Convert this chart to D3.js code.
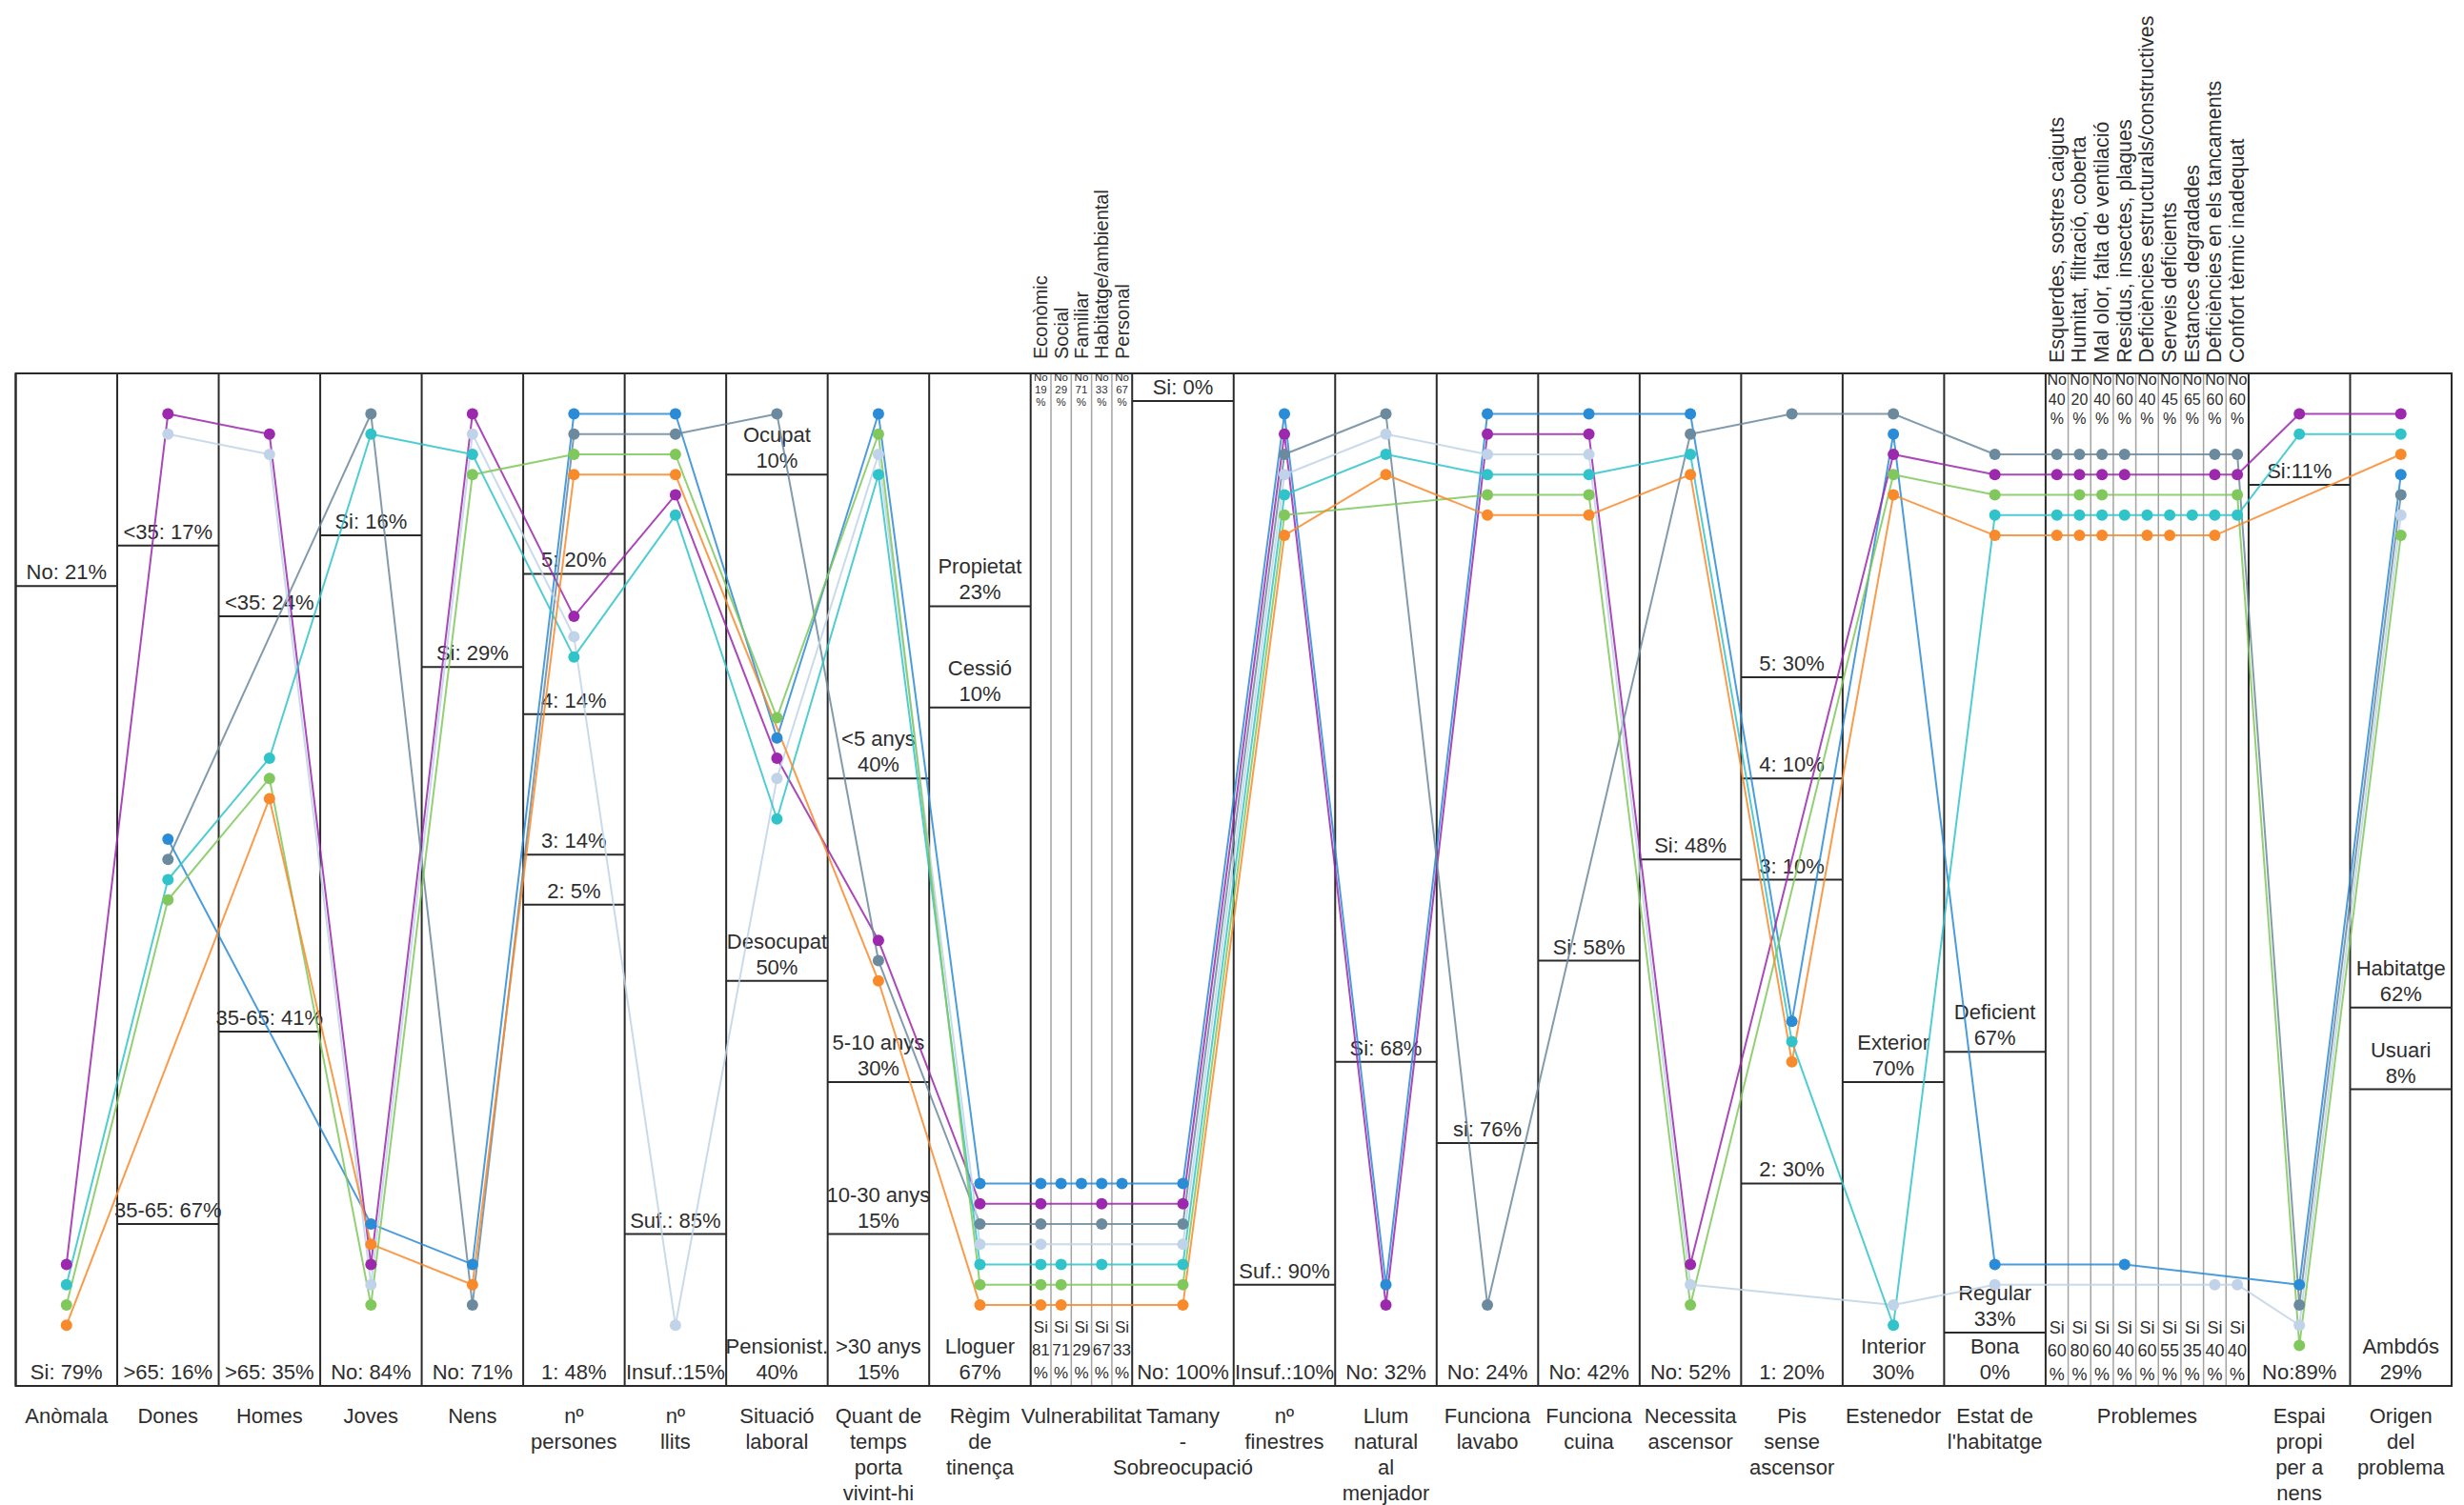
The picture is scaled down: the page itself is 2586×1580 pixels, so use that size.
<!DOCTYPE html>
<html lang="ca">
<head>
<meta charset="utf-8">
<title>Perfils d'habitatge</title>
<script src="https://cdn.jsdelivr.net/npm/d3@7/dist/d3.min.js"></script>
<style>
  html, body { margin: 0; background: #ffffff; }
  svg { display: block; font-family: "Liberation Sans", Arial, Helvetica, sans-serif; }
</style>
</head>
<body>
<svg id="chart" width="2586" height="1580"></svg>
<script>
// ---------------------------------------------------------------------------
// Data
// ---------------------------------------------------------------------------

// Axis titles ("|" breaks a title into lines)
const axisTitles = [
  "Anòmala", "Dones", "Homes", "Joves", "Nens", "nº|persones", "nº|llits",
  "Situació|laboral", "Quant de|temps|porta|vivint-hi", "Règim|de|tinença",
  "Vulnerabilitat", "Tamany|-|Sobreocupació", "nº|finestres",
  "Llum|natural|al|menjador", "Funciona|lavabo", "Funciona|cuina",
  "Necessita|ascensor", "Pis|sense|ascensor", "Estenedor",
  "Estat de|l'habitatge", "Problemes", "Espai|propi|per a|nens",
  "Origen|del|problema"
];

// Category names on each axis, top to bottom ("\n" puts the share on its own line)
const catNames = [
  ["No: ", "Si: "],
  ["<35: ", "35-65: ", ">65: "],
  ["<35: ", "35-65: ", ">65: "],
  ["Si: ", "No: "],
  ["Si: ", "No: "],
  ["5: ", "4: ", "3: ", "2: ", "1: "],
  ["Suf.: ", "Insuf.:"],
  ["Ocupat\n", "Desocupat\n", "Pensionist.\n"],
  ["<5 anys\n", "5-10 anys\n", "10-30 anys\n", ">30 anys\n"],
  ["Propietat\n", "Cessió\n", "Lloguer\n"],
  [],
  ["Si: ", "No: "],
  ["Suf.: ", "Insuf.:"],
  ["Si: ", "No: "],
  ["si: ", "No: "],
  ["Si: ", "No: "],
  ["Si: ", "No: "],
  ["5: ", "4: ", "3: ", "2: ", "1: "],
  ["Exterior\n", "Interior\n"],
  ["Deficient\n", "Regular\n", "Bona\n"],
  [],
  ["Si:", "No:"],
  ["Habitatge\n", "Usuari\n", "Ambdós\n"]
];

// Share (%) of each category
const catShares = [
  [21, 79], [17, 67, 16], [24, 41, 35], [16, 84], [29, 71],
  [20, 14, 14, 5, 48], [85, 15], [10, 50, 40], [40, 30, 15, 15],
  [23, 10, 67], [], [0, 100], [90, 10], [68, 32], [76, 24], [58, 42],
  [48, 52], [30, 10, 10, 30, 20], [70, 30], [67, 33, 0], [], [11, 89],
  [62, 8, 29]
];

// Vulnerability factors
const vulnFactors = ["Econòmic", "Social", "Familiar", "Habitatge/ambiental", "Personal"];
const vulnNo = [19, 29, 71, 33, 67];
const vulnSi = [81, 71, 29, 67, 33];

// Problems of the dwelling
const problemTypes = [
  "Esquerdes, sostres caiguts", "Humitat, filtració, coberta",
  "Mal olor, falta de ventilació", "Residus, insectes, plagues",
  "Deficiències estructurals/constructives", "Serveis deficients",
  "Estances degradades", "Deficiències en els tancaments",
  "Confort tèrmic inadequat"
];
const problemNo = [40, 20, 40, 60, 40, 45, 65, 60, 60];
const problemSi = [60, 80, 60, 40, 60, 55, 35, 40, 40];

// Position of each household profile on every axis,
// in % of the axis height from the top (null = no point on that axis)
const posBlue   = [null, 46, null, 84, 88,  4,  4, 36,  4, 80, 80, 80,  4, 90,  4,  4,  4, 64,  6, 88, 88, 90, 10];
const posPurple = [88,    4,  6,   88,  4, 24, 12, 38, 56, 82, 82, 82,  6, 92,  6,  6, 88, null, 8, 10, 10,  4,  4];
const posSlate  = [null, 48, null,  4, 92,  6,  6,  4, 58, 84, 84, 84,  8,  4, 92, null, 6,  4,  4,  8,  8, 92, 12];
const posLight  = [null,  6,  8,   90,  6, 26, 94, 40,  8, 86, 86, 86, 10,  6,  8,  8, 90, null, 92, 90, 90, 94, 14];
const posCyan   = [90,   50, 38,    6,  8, 28, 14, 44, 10, 88, 88, 88, 12,  8, 10, 10,  8, 66, 94, 14, 14,  6,  6];
const posGreen  = [92,   52, 40,   92, 10,  8,  8, 34,  6, 90, 90, 90, 14, null, 12, 12, 92, null, 10, 12, 12, 96, 16];
const posOrange = [94, null, 42,   86, 90, 10, 10, null, 60, 92, 92, 92, 16, 10, 14, 14, 10, 68, 12, 16, 16, null, 8];

// Which vulnerability factors / problems each profile marks (same profile order)
const vulnDots = [
  [1, 1, 1, 1, 1],
  [1, 0, 0, 1, 0],
  [1, 0, 0, 1, 0],
  [1, 0, 0, 0, 0],
  [1, 1, 0, 1, 0],
  [1, 1, 0, 0, 0],
  [1, 1, 0, 0, 0]
];
const problemDots = [
  [0, 0, 0, 1, 0, 0, 0, 0, 0],
  [1, 1, 1, 1, 0, 0, 0, 1, 1],
  [1, 1, 1, 1, 0, 0, 0, 1, 1],
  [0, 0, 0, 0, 0, 0, 0, 1, 1],
  [1, 1, 1, 1, 1, 1, 1, 1, 1],
  [0, 1, 1, 0, 0, 0, 0, 0, 1],
  [1, 1, 1, 0, 1, 1, 0, 1, 0]
];

const profileColors = ["#2a8bd6", "#9b28ad", "#6c8a9e", "#c0d3e8", "#30c4ca", "#80c85c", "#f98a2c"];

// ---------------------------------------------------------------------------
// Layout
// ---------------------------------------------------------------------------
const frameL = 16.5, frameR = 2573, frameT = 392, frameB = 1455;
const LINE_H = 27;
const VULN = axisTitles.indexOf("Vulnerabilitat");
const PROB = axisTitles.indexOf("Problemes");

const span = axisTitles.map((d, i) => (i === PROB ? 2 : 1));
const axStart = [];
let acc = 0;
span.forEach(s => { axStart.push(acc); acc += s; });
const ux = d3.scaleLinear().domain([0, acc]).range([frameL, frameR]);
const x0 = i => ux(axStart[i]);
const x1 = i => ux(axStart[i] + span[i]);
const cx = i => ux(axStart[i] + span[i] / 2);
const subX = (i, j, n) => ux(axStart[i] + span[i] * (j + 0.5) / n);
const subEdge = (i, j, n) => ux(axStart[i] + span[i] * j / n);

const yPos = d3.scaleLinear().domain([0, 100]).range([frameT, frameB]);

const svg = d3.select("#chart");
const ink = "#2a2a2a";
const textInk = "#2e2e2e";

// ---------------------------------------------------------------------------
// Category boxes and their labels
// ---------------------------------------------------------------------------
const gBoxes = svg.append("g");

function boundaries(shares, lineCounts) {
  const total = d3.sum(shares);
  let c = 0;
  const px = [yPos(0)];
  shares.forEach(s => { c += s; px.push(yPos(100 * c / total)); });
  const n = shares.length;
  for (let k = 0; k < n; k++) {
    const minH = lineCounts[k] * LINE_H + 2;
    if (px[k + 1] - px[k] < minH) {
      if (k === 0) px[1] = px[0] + minH;
      else px[k] = px[k + 1] - minH;
    }
  }
  return px;
}

catShares.forEach((shares, i) => {
  if (!shares.length) return;
  const labels = shares.map((s, k) => (catNames[i][k] + s + "%").split("\n"));
  const px = boundaries(shares, labels.map(l => l.length));
  for (let k = 1; k < shares.length; k++) {
    gBoxes.append("line")
      .attr("x1", x0(i)).attr("x2", x1(i))
      .attr("y1", px[k]).attr("y2", px[k])
      .attr("stroke", ink).attr("stroke-width", 2);
  }
  labels.forEach((lines, k) => {
    const base = px[k + 1] - 7;
    lines.forEach((t, m) => {
      gBoxes.append("text")
        .attr("x", cx(i))
        .attr("y", base - (lines.length - 1 - m) * LINE_H)
        .attr("text-anchor", "middle")
        .attr("fill", textInk)
        .style("font-size", "22px")
        .text(t);
    });
  });
});

// ---------------------------------------------------------------------------
// Sub-columns: vulnerability factors and problems
// ---------------------------------------------------------------------------
const gSub = svg.append("g");

function subColumns(i, names, noVals, siVals, opt) {
  const n = names.length;
  for (let j = 1; j < n; j++) {
    gSub.append("line")
      .attr("x1", subEdge(i, j, n)).attr("x2", subEdge(i, j, n))
      .attr("y1", frameT).attr("y2", frameB)
      .attr("stroke", "#a3a3a3").attr("stroke-width", 1.5);
  }
  names.forEach((name, j) => {
    const sx = subX(i, j, n);
    // rotated header above the frame
    gSub.append("text")
      .attr("transform", `translate(${sx + 7},${frameT - opt.headGap}) rotate(-90)`)
      .attr("text-anchor", "start")
      .attr("fill", textInk)
      .style("font-size", opt.headSize + "px")
      .text(name);
    // "No" share at the top
    ["No", String(noVals[j]), "%"].forEach((t, m) => {
      gSub.append("text")
        .attr("x", sx).attr("y", frameT + opt.topBase[m])
        .attr("text-anchor", "middle").attr("fill", textInk)
        .style("font-size", opt.topSize + "px")
        .text(t);
    });
    // "Si" share at the bottom
    ["Si", String(siVals[j]), "%"].forEach((t, m) => {
      gSub.append("text")
        .attr("x", sx).attr("y", frameB - opt.botBase[m])
        .attr("text-anchor", "middle").attr("fill", textInk)
        .style("font-size", opt.botSize + "px")
        .text(t);
    });
  });
}

subColumns(VULN, vulnFactors, vulnNo, vulnSi, {
  headGap: 15, headSize: 20,
  topSize: 11.5, topBase: [8, 21, 34],
  botSize: 17, botBase: [56, 32, 8]
});
subColumns(PROB, problemTypes, problemNo, problemSi, {
  headGap: 11, headSize: 21.5,
  topSize: 16, topBase: [12, 32.5, 53],
  botSize: 18, botBase: [55.5, 31, 6.5]
});

// ---------------------------------------------------------------------------
// Frame and column dividers
// ---------------------------------------------------------------------------
const gFrame = svg.append("g");
axisTitles.forEach((t, i) => {
  gFrame.append("line")
    .attr("x1", x0(i)).attr("x2", x0(i)).attr("y1", frameT).attr("y2", frameB)
    .attr("stroke", ink).attr("stroke-width", 2);
});
gFrame.append("rect")
  .attr("x", frameL).attr("y", frameT)
  .attr("width", frameR - frameL).attr("height", frameB - frameT)
  .attr("fill", "none").attr("stroke", ink).attr("stroke-width", 2);

// Axis titles under the frame
const gTitles = svg.append("g");
axisTitles.forEach((t, i) => {
  t.split("|").forEach((line, m) => {
    gTitles.append("text")
      .attr("x", cx(i)).attr("y", frameB + 39 + m * LINE_H)
      .attr("text-anchor", "middle").attr("fill", textInk)
      .style("font-size", "22px")
      .text(line);
  });
});

// ---------------------------------------------------------------------------
// Household profiles
// ---------------------------------------------------------------------------
const profiles = [posBlue, posPurple, posSlate, posLight, posCyan, posGreen, posOrange]
  .map((pos, k) => {
    const pts = [];
    pos.forEach((v, i) => {
      if (v == null) return;
      if (i === VULN) {
        vulnDots[k].forEach((f, j) => { if (f) pts.push([subX(i, j, vulnDots[k].length), yPos(v)]); });
      } else if (i === PROB) {
        problemDots[k].forEach((f, j) => { if (f) pts.push([subX(i, j, problemDots[k].length), yPos(v)]); });
      } else {
        pts.push([cx(i), yPos(v)]);
      }
    });
    return { color: profileColors[k], pts };
  });

const lineGen = d3.line();
const gLines = svg.append("g");
profiles.forEach(p => {
  gLines.append("path")
    .attr("d", lineGen(p.pts))
    .attr("fill", "none")
    .attr("stroke", p.color)
    .attr("stroke-width", 2)
    .attr("stroke-opacity", 0.85)
    .attr("stroke-linejoin", "round");
});

const gDots = svg.append("g");
profiles.forEach(p => {
  gDots.selectAll(null)
    .data(p.pts)
    .join("circle")
    .attr("cx", d => d[0]).attr("cy", d => d[1])
    .attr("r", 6)
    .attr("fill", p.color);
});
</script>
</body>
</html>
